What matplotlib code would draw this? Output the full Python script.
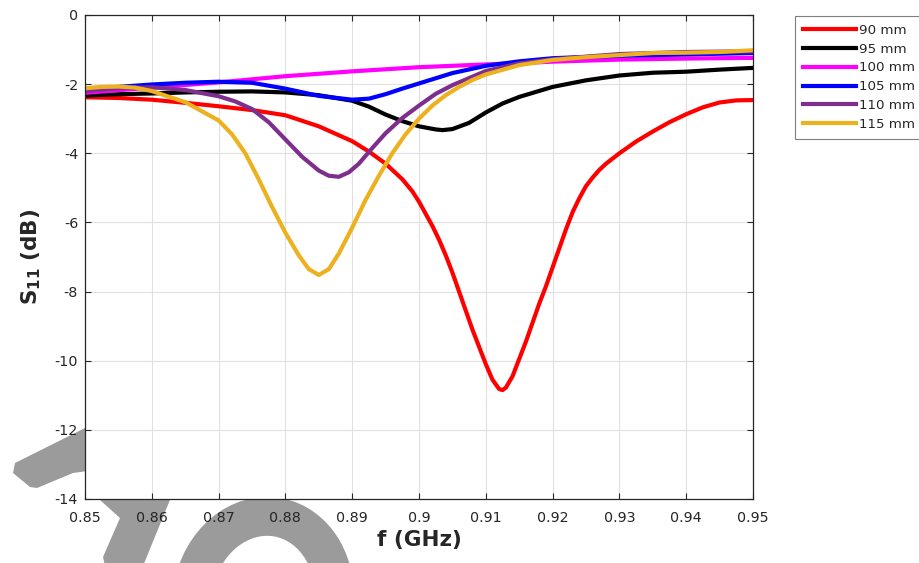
import matplotlib
matplotlib.use("Agg")
import matplotlib.pyplot as plt
from matplotlib.patches import Polygon, Ellipse

plt.rcParams['font.family'] = ['DejaVu Sans']
plt.rcParams['mathtext.fontset'] = 'dejavusans'

# ---------------- data ----------------
f_90 = [0.85, 0.855, 0.86, 0.865, 0.87, 0.875, 0.88, 0.885, 0.89, 0.8925, 0.895, 0.8975, 0.899,
        0.9, 0.901, 0.902, 0.903, 0.904, 0.905, 0.906, 0.907, 0.908, 0.909, 0.91, 0.911, 0.912,
        0.9125, 0.913, 0.914, 0.915, 0.916, 0.917, 0.918, 0.919, 0.92, 0.921, 0.922, 0.923,
        0.924, 0.925, 0.926, 0.927, 0.928, 0.929, 0.93, 0.9325, 0.935, 0.9375, 0.94, 0.9425,
        0.945, 0.9475, 0.95]
s_90 = [-2.38, -2.40, -2.45, -2.54, -2.64, -2.75, -2.90, -3.22, -3.65, -3.95, -4.3, -4.75, -5.1,
        -5.4, -5.75, -6.1, -6.5, -6.95, -7.45, -8.0, -8.55, -9.1, -9.6, -10.1, -10.55, -10.82,
        -10.85, -10.78, -10.45, -9.95, -9.45, -8.9, -8.35, -7.85, -7.3, -6.75, -6.2, -5.7,
        -5.3, -4.95, -4.7, -4.48, -4.3, -4.15, -4.0, -3.66, -3.37, -3.1, -2.87, -2.67,
        -2.53, -2.47, -2.46]

f_95 = [0.85, 0.855, 0.86, 0.865, 0.87, 0.875, 0.88, 0.885, 0.89, 0.8925, 0.895, 0.8975, 0.9,
        0.9025, 0.9035, 0.905, 0.9075, 0.91, 0.9125, 0.915, 0.92, 0.925, 0.93, 0.935, 0.94,
        0.945, 0.95]
s_95 = [-2.33, -2.29, -2.27, -2.24, -2.22, -2.21, -2.24, -2.32, -2.48, -2.65, -2.88, -3.07, -3.22,
        -3.31, -3.33, -3.30, -3.12, -2.82, -2.56, -2.37, -2.08, -1.89, -1.75, -1.67, -1.64,
        -1.58, -1.53]

f_100 = [0.85, 0.86, 0.87, 0.88, 0.89, 0.9, 0.91, 0.92, 0.93, 0.94, 0.95]
s_100 = [-2.25, -2.1, -1.95, -1.77, -1.63, -1.51, -1.43, -1.35, -1.29, -1.26, -1.24]

f_105 = [0.85, 0.855, 0.86, 0.865, 0.87, 0.875, 0.88, 0.885, 0.89, 0.8925, 0.895, 0.8975, 0.9,
         0.905, 0.91, 0.915, 0.92, 0.93, 0.94, 0.95]
s_105 = [-2.18, -2.08, -2.01, -1.96, -1.93, -1.96, -2.13, -2.34, -2.45, -2.42, -2.29, -2.13, -1.98,
         -1.68, -1.47, -1.34, -1.25, -1.18, -1.14, -1.10]

f_110 = [0.85, 0.855, 0.86, 0.865, 0.87, 0.8725, 0.875, 0.8775, 0.88, 0.8825, 0.885, 0.8865,
         0.888, 0.8895, 0.891, 0.893, 0.895, 0.8975, 0.9, 0.9025, 0.905, 0.91, 0.915, 0.92,
         0.93, 0.94, 0.95]
s_110 = [-2.2, -2.12, -2.09, -2.17, -2.35, -2.5, -2.72, -3.1, -3.6, -4.1, -4.5, -4.65,
         -4.68, -4.55, -4.3, -3.85, -3.42, -2.98, -2.62, -2.28, -2.03, -1.62, -1.40, -1.28,
         -1.13, -1.07, -1.05]

f_115 = [0.85, 0.8525, 0.855, 0.8575, 0.86, 0.865, 0.87, 0.872, 0.874, 0.876, 0.878, 0.88, 0.882,
         0.8835, 0.885, 0.8865, 0.888, 0.89, 0.892, 0.894, 0.896, 0.898, 0.9, 0.902, 0.904,
         0.906, 0.908, 0.91, 0.915, 0.92, 0.925, 0.93, 0.935, 0.94, 0.945, 0.95]
s_115 = [-2.12, -2.08, -2.07, -2.10, -2.20, -2.52, -3.05, -3.45, -4.0, -4.75, -5.55, -6.3, -6.95,
         -7.35, -7.52, -7.35, -6.9, -6.15, -5.35, -4.65, -4.0, -3.45, -3.0, -2.62, -2.32,
         -2.08, -1.88, -1.72, -1.45, -1.30, -1.22, -1.16, -1.10, -1.09, -1.07, -1.02]

labels = ['90 mm', '95 mm', '100 mm', '105 mm', '110 mm', '115 mm']
colors = ['#FF0000', '#000000', '#FF00FF', '#0000FF', '#7E2F8E', '#EDB120']
series_f = [f_90, f_95, f_100, f_105, f_110, f_115]
series_s = [s_90, s_95, s_100, s_105, s_110, s_115]

xticks = [0.85, 0.86, 0.87, 0.88, 0.89, 0.9, 0.91, 0.92, 0.93, 0.94, 0.95]
xtick_labels = ['0.85', '0.86', '0.87', '0.88', '0.89', '0.9', '0.91', '0.92', '0.93', '0.94', '0.95']
yticks = [0, -2, -4, -6, -8, -10, -12, -14]
ytick_labels = ['0', '-2', '-4', '-6', '-8', '-10', '-12', '-14']

# ---------------- figure ----------------
W, H = 920, 563
fig = plt.figure(figsize=(W / 100, H / 100), dpi=100)

def px(x, y):
    return (x / W, 1 - y / H)

# watermark shapes (behind axes)
gray = '#9b9b9b'
bar = Polygon([px(15, 463), px(95, 423), px(95, 470), px(73, 473), px(37, 488),
               px(30, 487), px(13, 473)], closed=True, transform=fig.transFigure,
              facecolor=gray, edgecolor='none', zorder=-2)
diag = Polygon([px(92, 492), px(100, 500), px(120, 518), px(103, 557), px(105, 566),
                px(143, 566), px(172, 495)], closed=True, transform=fig.transFigure,
               facecolor=gray, edgecolor='none', zorder=-2)
ring = Ellipse((2.63, (H - 600) / 100), 1.42, 1.68, angle=-10, transform=fig.dpi_scale_trans,
               fill=False, edgecolor=gray, linewidth=28, zorder=-2)
for art in (bar, diag, ring):
    fig.add_artist(art)

ax = fig.add_axes([85 / W, 1 - 499 / H, (753 - 85) / W, (499 - 15) / H])
ax.set_facecolor('white')

for fx, sy, lab, col in zip(series_f, series_s, labels, colors):
    ax.plot(fx, sy, color=col, lw=3.0, label=lab, solid_joinstyle='round')

ax.set_xlim(0.85, 0.95)
ax.set_ylim(-14, 0)
ax.set_xticks(xticks)
ax.set_xticklabels(xtick_labels)
ax.set_yticks(yticks)
ax.set_yticklabels(ytick_labels)
ax.grid(True, color='#e0e0e0', lw=0.8)
ax.set_axisbelow(True)
ax.tick_params(direction='in', length=4.5, width=0.8, top=True, right=True,
               labelsize=10.3, colors='#262626', pad=5)
ax.tick_params(axis='x', pad=9)
for sp in ax.spines.values():
    sp.set_color('#262626')
    sp.set_linewidth(0.9)

ax.set_xlabel('f (GHz)', fontsize=15.5, fontweight='bold', color='#262626', labelpad=3)
ax.set_ylabel(r'$\mathbf{S}_{\mathbf{11}}$ (dB)', fontsize=15.5, fontweight='bold',
              color='#262626', labelpad=8)

leg = ax.legend(loc='upper left', bbox_to_anchor=(795 / W, 1 - 16 / H),
                bbox_transform=fig.transFigure, borderaxespad=0, fontsize=9.6,
                handlelength=3.95, handletextpad=0.25, labelspacing=0.43,
                borderpad=0.6, fancybox=False, framealpha=1, edgecolor='#7f7f7f')
leg.get_frame().set_linewidth(0.8)
for t in leg.get_texts():
    t.set_color('#262626')

fig.savefig('out.png', dpi=100)
